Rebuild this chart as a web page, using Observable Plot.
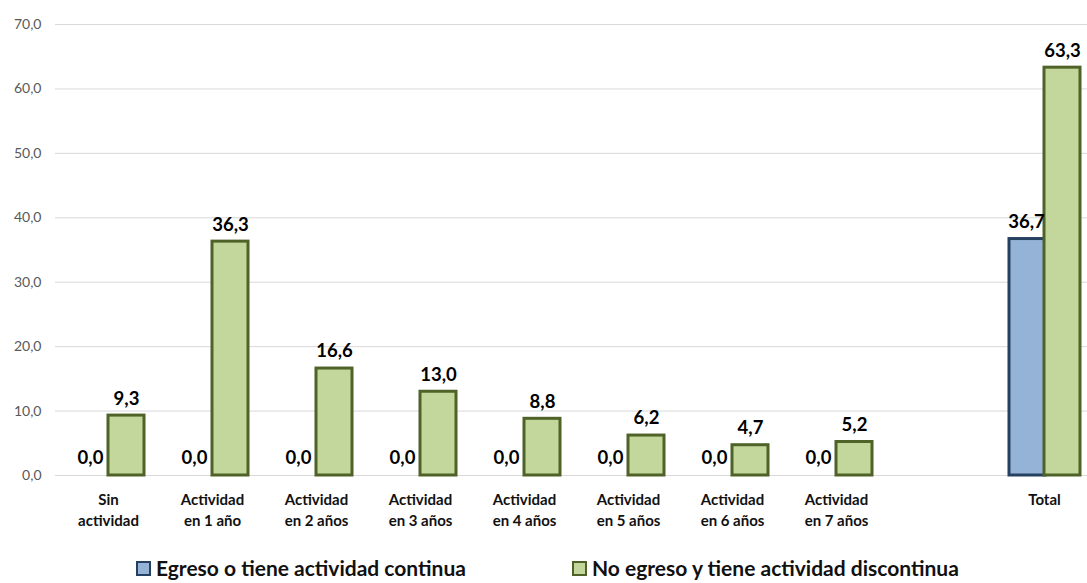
<!DOCTYPE html>
<html>
<head>
<meta charset="utf-8">
<script src="https://cdn.jsdelivr.net/npm/d3@7"></script>
<script src="https://cdn.jsdelivr.net/npm/@observablehq/plot@0.6"></script>
<style>
  body { margin: 0; background: #fff; font-family: Lato, "Open Sans", sans-serif; }
  #chart svg { display: block; }
  .legend { position: absolute; top: 556px; left: 0; width: 1087px; font-weight: bold; font-size: 21px; line-height: 24px; color: #111; white-space: nowrap; }
  .item { position: absolute; display: flex; align-items: center; }
  .sw { width: 15px; height: 15px; box-sizing: border-box; border: 2.5px solid; margin-right: 5px; }
</style>
</head>
<body>
<div id="chart"></div>
<div class="legend">
  <div class="item" style="left:136px"><span class="sw" style="background:#95B3D7;border-color:#254061"></span>Egreso o tiene actividad continua</div>
  <div class="item" style="left:572px"><span class="sw" style="background:#C3D69B;border-color:#4F6228"></span>No egreso y tiene actividad discontinua</div>
</div>
<script>
const categories = ["Sin\nactividad", "Actividad\nen 1 año", "Actividad\nen 2 años", "Actividad\nen 3 años", "Actividad\nen 4 años", "Actividad\nen 5 años", "Actividad\nen 6 años", "Actividad\nen 7 años", "Total"];
const seriesNames = ["Egreso o tiene actividad continua", "No egreso y tiene actividad discontinua"];
const egreso = [0.0, 0.0, 0.0, 0.0, 0.0, 0.0, 0.0, 0.0, 36.7];
const noEgreso = [9.3, 36.3, 16.6, 13.0, 8.8, 6.2, 4.7, 5.2, 63.3];
const yTicks = [0, 10, 20, 30, 40, 50, 60, 70];

const spacer = " ";
const domain = [...categories.slice(0, 8), spacer, "Total"];
const fmt = v => v.toFixed(1).replace(".", ",");

const blue = categories.map((c, i) => ({cat: c, v: egreso[i]}));
const green = categories.map((c, i) => ({cat: c, v: noEgreso[i]}));

const chart = Plot.plot({
  width: 1087,
  height: 545,
  marginTop: 24,
  marginBottom: 70,
  marginLeft: 55,
  marginRight: 0,
  style: {fontFamily: "Lato, 'Open Sans', sans-serif", background: "#fff"},
  x: {domain, range: [55, 1097], paddingInner: 0.655, paddingOuter: 0.3275, label: null},
  y: {domain: [0, 70], label: null},
  marks: [
    Plot.ruleY(yTicks, {stroke: "#d9d9d9", strokeWidth: 1}),
    Plot.axisY(yTicks, {tickSize: 0, tickPadding: 14, tickFormat: fmt, fill: "#595959", fontSize: 14, label: null}),
    Plot.axisX({tickSize: 0, tickPadding: 15, fontSize: 15, fontWeight: "bold", fill: "#111", label: null,
      tickFormat: d => d === spacer ? "" : d, lineHeight: 1.4}),
    Plot.barY(blue, {filter: d => d.v > 0, x: "cat", y: "v", dx: -17, fill: "#95B3D7", stroke: "#254061", strokeWidth: 3}),
    Plot.barY(green, {x: "cat", y: "v", dx: 18, fill: "#C3D69B", stroke: "#4F6228", strokeWidth: 3}),
    Plot.text(blue, {x: "cat", y: "v", dx: -18, dy: -17, text: d => fmt(d.v), fontWeight: "bold", fontSize: 18.5, fill: "#000"}),
    Plot.text(green, {x: "cat", y: "v", dx: 18, dy: -17, text: d => fmt(d.v), fontWeight: "bold", fontSize: 18.5, fill: "#000"})
  ]
});
document.getElementById("chart").appendChild(chart);
</script>
</body>
</html>
